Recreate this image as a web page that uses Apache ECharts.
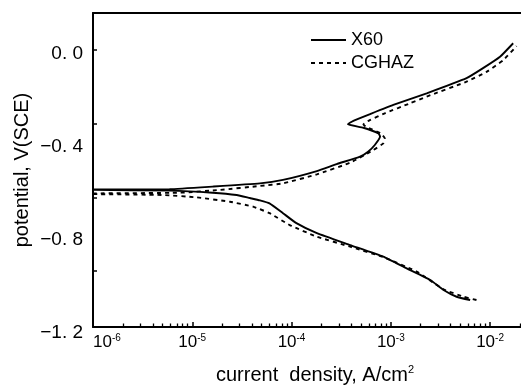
<!DOCTYPE html>
<html>
<head>
<meta charset="utf-8">
<script src="https://cdn.jsdelivr.net/npm/echarts@6/dist/echarts.min.js"></script>
<style>
  html, body { margin: 0; padding: 0; background: #fff; }
  #chart { width: 521px; height: 389px; }
</style>
</head>
<body>
<div id="chart"></div>
<script>
// X60 polarization curve, cathodic end -> Ecorr -> anodic end
const x60Current = [6.3e-3, 4.6e-3, 3.4e-3, 2.5e-3, 1.44e-3, 8.4e-4, 3.9e-4, 1.8e-4, 1.12e-4, 8.2e-5,
  6.0e-5, 4.8e-5, 3.8e-5, 2.8e-5, 1.6e-5, 5.9e-6, 1.0e-6, 5e-7, 1.0e-6, 5.9e-6, 1.6e-5, 4.8e-5, 8.2e-5,
  1.8e-4, 2.85e-4, 4.9e-4, 5.9e-4, 6.9e-4, 7.8e-4, 7.5e-4, 5.3e-4, 3.7e-4, 4.2e-4, 6.2e-4, 1.06e-3,
  2.3e-3, 5.8e-3, 8.5e-3, 1.26e-2, 1.71e-2];
const x60Potential = [-1.060, -1.046, -1.017, -0.974, -0.924, -0.874, -0.824, -0.773, -0.730, -0.687,
  -0.645, -0.632, -0.622, -0.609, -0.599, -0.590, -0.587, -0.586, -0.585, -0.584, -0.573, -0.559, -0.544,
  -0.506, -0.476, -0.444, -0.423, -0.394, -0.358, -0.344, -0.320, -0.305, -0.290, -0.261, -0.222,
  -0.172, -0.107, -0.064, -0.015, 0.043];

// CGHAZ polarization curve
const cghazCurrent = [7.3e-3, 5.4e-3, 3.4e-3, 1.82e-3, 8.4e-4, 3.9e-4, 1.8e-4, 9.6e-5, 6.0e-5, 4.1e-5,
  2.4e-5, 1.1e-5, 5.1e-6, 1.0e-6, 5e-7, 1.0e-6, 7.5e-6, 1.9e-5, 4.8e-5, 8.2e-5, 1.8e-4, 3.9e-4,
  6.7e-4, 8.4e-4, 8.7e-4, 7.9e-4, 5.6e-4, 5.3e-4, 6.15e-4, 8.7e-4, 1.56e-3, 2.3e-3, 5.8e-3, 9.3e-3,
  1.36e-2, 1.85e-2];
const cghazPotential = [-1.060, -1.046, -1.014, -0.938, -0.876, -0.831, -0.788, -0.738, -0.687, -0.659,
  -0.638, -0.619, -0.609, -0.605, -0.604, -0.602, -0.599, -0.587, -0.570, -0.559, -0.520, -0.470,
  -0.415, -0.387, -0.365, -0.344, -0.315, -0.306, -0.287, -0.258, -0.215, -0.186, -0.122, -0.079,
  -0.029, 0.031];

// axes
const xMin = 1e-6;
const xMax = 0.0205;
const xTickExponents = [-6, -5, -4, -3, -2];
const yTickValues = [0, -0.4, -0.8, -1.2];
const yTickLabels = ['0. 0', '\u22120. 4', '\u22120. 8', '\u22121. 2'];
// the tick marks on the left axis do not line up with its labels in the original
const yTickMarks = [0.014, -0.303, -0.620, -0.936];

const FONT = 'Liberation Sans';

const zip = (xs, ys) => xs.map((x, i) => [x, ys[i]]);

// minor ticks of the log axis (2..9 in each decade), in log10 units
const minorTicks = [];
for (const e of xTickExponents) {
  for (let k = 2; k <= 9; k++) {
    const v = Math.log10(k) + e;
    if (v <= Math.log10(xMax)) minorTicks.push(v);
  }
}

const chart = echarts.init(document.getElementById('chart'));

const axisLine = { show: true, onZero: false, lineStyle: { color: '#000', width: 2 } };

chart.setOption({
  animation: false,
  backgroundColor: '#fff',
  grid: [
    // plotting area
    { left: 93, right: 0, top: 13, height: 314, outerBoundsMode: 'none' },
    // y labels (they sit slightly lower than the plotting scale ends)
    { left: 93, right: 0, top: 13, height: 319.7, outerBoundsMode: 'none' },
    // minor ticks of the current axis
    { left: 93, right: 0, top: 13, height: 314, outerBoundsMode: 'none' }
  ],
  legend: {
    data: ['X60', 'CGHAZ'],
    orient: 'vertical',
    left: 310,
    top: 31,
    padding: 0,
    itemWidth: 35,
    itemHeight: 14,
    itemGap: 5,
    itemStyle: { opacity: 0 },
    textStyle: { fontFamily: FONT, fontSize: 18, color: '#000' }
  },
  xAxis: [
    {
      type: 'log',
      gridIndex: 0,
      position: 'bottom',
      min: xMin,
      max: xMax,
      axisLine,
      axisTick: { inside: true, length: 5, lineStyle: { color: '#000', width: 1.5 } },
      splitLine: { show: false },
      axisLabel: {
        margin: 6,
        alignMinLabel: 'left',
        showMaxLabel: false,
        formatter: (v) => {
          const l = Math.log10(v);
          const e = Math.round(l);
          return Math.abs(l - e) < 1e-6 && xTickExponents.includes(e) ? '{b|10}{s|' + e + '}' : '';
        },
        rich: {
          b: { fontFamily: FONT, fontSize: 17, color: '#000', lineHeight: 18 },
          s: { fontFamily: FONT, fontSize: 10, color: '#000', verticalAlign: 'top', lineHeight: 10 }
        }
      },
      name: '{t|current  density, A/cm}{s|2}',
      nameLocation: 'middle',
      nameGap: 37,
      nameTextStyle: {
        padding: [0, 0, 0, 16],
        rich: {
          t: { fontFamily: FONT, fontSize: 20, color: '#000', lineHeight: 22 },
          s: { fontFamily: FONT, fontSize: 11, color: '#000', verticalAlign: 'top', lineHeight: 11 }
        }
      }
    },
    {
      // top frame line
      type: 'value',
      gridIndex: 0,
      position: 'top',
      min: 0,
      max: 1,
      axisLine,
      axisTick: { show: false },
      axisLabel: { show: false },
      splitLine: { show: false }
    },
    { type: 'value', gridIndex: 1, show: false, min: 0, max: 1 },
    {
      type: 'value',
      gridIndex: 2,
      position: 'bottom',
      min: Math.log10(xMin),
      max: Math.log10(xMax),
      axisLine: { show: false, onZero: false },
      axisTick: {
        show: true,
        inside: true,
        length: 3.5,
        customValues: minorTicks,
        lineStyle: { color: '#000', width: 1.3 }
      },
      axisLabel: { show: false },
      splitLine: { show: false }
    }
  ],
  yAxis: [
    {
      type: 'value',
      gridIndex: 0,
      min: -1.176,
      max: 0.173,
      axisLine,
      axisTick: {
        show: true,
        inside: true,
        length: 4,
        customValues: yTickMarks,
        lineStyle: { color: '#000', width: 1.5 }
      },
      axisLabel: { show: false },
      splitLine: { show: false },
      name: 'potential, V(SCE)',
      nameLocation: 'middle',
      nameGap: 61,
      nameTextStyle: { fontFamily: FONT, fontSize: 20, color: '#000' }
    },
    {
      type: 'value',
      gridIndex: 1,
      min: -1.2,
      max: 0.173,
      axisLine: { show: false, onZero: false },
      axisTick: { show: false },
      splitLine: { show: false },
      axisLabel: {
        customValues: yTickValues,
        margin: 10,
        fontFamily: FONT,
        fontSize: 19,
        color: '#000',
        formatter: (v) => {
          const i = yTickValues.findIndex((t) => Math.abs(t - v) < 1e-6);
          return i >= 0 ? yTickLabels[i] : '';
        }
      }
    },
    { type: 'value', gridIndex: 2, show: false, min: 0, max: 1 }
  ],
  series: [
    {
      name: 'X60',
      type: 'line',
      xAxisIndex: 0,
      yAxisIndex: 0,
      data: zip(x60Current, x60Potential),
      symbol: 'none',
      showSymbol: false,
      smooth: 0.15,
      lineStyle: { color: '#000', width: 1.9, type: 'solid' },
      itemStyle: { color: '#000' }
    },
    {
      name: 'CGHAZ',
      type: 'line',
      xAxisIndex: 0,
      yAxisIndex: 0,
      data: zip(cghazCurrent, cghazPotential),
      symbol: 'none',
      showSymbol: false,
      smooth: 0.15,
      lineStyle: { color: '#000', width: 1.9, type: [4, 4] },
      itemStyle: { color: '#000' }
    }
  ]
});
</script>
</body>
</html>
